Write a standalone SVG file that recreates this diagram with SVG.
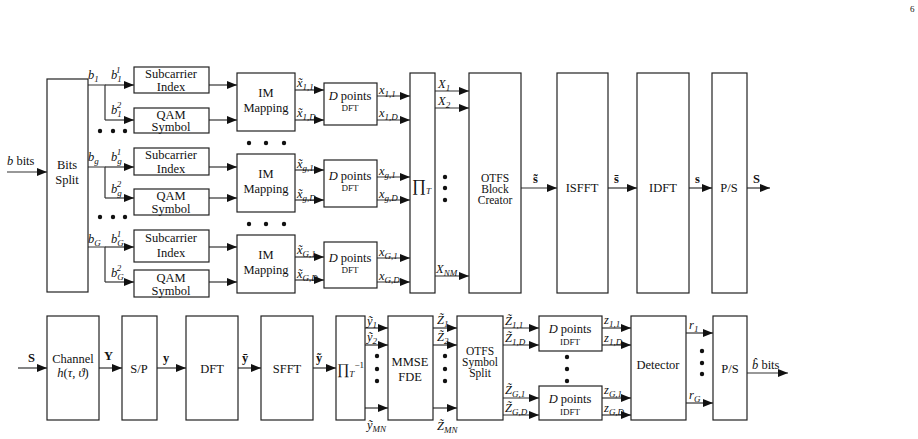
<svg xmlns="http://www.w3.org/2000/svg" width="918" height="439" viewBox="0 0 918 439" font-family="'Liberation Serif', 'DejaVu Serif', serif">
<style>
.b{fill:#fff;stroke:#222;stroke-width:1.2}
.c line,.c polyline{stroke:#333;stroke-width:1.2;fill:none}
.a{marker-end:url(#ar)}
text{font-family:'Liberation Serif','Times New Roman','DejaVu Serif',serif;font-size:12.5px;fill:#111}
.m{font-style:italic}
.s{font-size:9px}
.t{text-anchor:middle}
.n{font-size:11.5px}
.bd{font-weight:bold}
</style>
<defs><marker id="ar" viewBox="0 0 10 8" refX="10" refY="4" markerWidth="10" markerHeight="8" markerUnits="userSpaceOnUse" orient="auto"><path d="M0,0L10,4L0,8z" fill="#111"/></marker></defs>
<text x="910" y="12" class="s">6</text>
<g class="c">
<line class="a" x1="7" y1="172" x2="47" y2="172"/>
<polyline points="88,85 105,85 105,120"/><line class="a" x1="105" y1="85" x2="134" y2="85"/><line class="a" x1="105" y1="120" x2="134" y2="120"/>
<polyline points="88,167 105,167 105,198"/><line class="a" x1="105" y1="167" x2="134" y2="167"/><line class="a" x1="105" y1="198" x2="134" y2="198"/>
<polyline points="88,247 105,247 105,282"/><line class="a" x1="105" y1="247" x2="134" y2="247"/><line class="a" x1="105" y1="282" x2="134" y2="282"/>
<line class="a" x1="209" y1="85" x2="237" y2="85"/><line class="a" x1="209" y1="120" x2="237" y2="120"/>
<line class="a" x1="209" y1="167" x2="237" y2="167"/><line class="a" x1="209" y1="198" x2="237" y2="198"/>
<line class="a" x1="209" y1="247" x2="237" y2="247"/><line class="a" x1="209" y1="282" x2="237" y2="282"/>
<line class="a" x1="295" y1="90" x2="324" y2="90"/><line class="a" x1="295" y1="120" x2="324" y2="120"/>
<line class="a" x1="295" y1="170" x2="324" y2="170"/><line class="a" x1="295" y1="200" x2="324" y2="200"/>
<line class="a" x1="295" y1="257" x2="324" y2="257"/><line class="a" x1="295" y1="280" x2="324" y2="280"/>
<line class="a" x1="377" y1="96" x2="410" y2="96"/><line class="a" x1="377" y1="120" x2="410" y2="120"/>
<line class="a" x1="377" y1="177" x2="410" y2="177"/><line class="a" x1="377" y1="200" x2="410" y2="200"/>
<line class="a" x1="377" y1="258" x2="410" y2="258"/><line class="a" x1="377" y1="282" x2="410" y2="282"/>
<line class="a" x1="435" y1="91" x2="469" y2="91"/><line class="a" x1="435" y1="108" x2="469" y2="108"/><line class="a" x1="435" y1="276" x2="469" y2="276"/>
<line class="a" x1="521" y1="188" x2="557" y2="188"/><line class="a" x1="608" y1="188" x2="637" y2="188"/><line class="a" x1="689" y1="188" x2="712" y2="188"/><line class="a" x1="747" y1="188" x2="770" y2="188"/>
<line class="a" x1="18" y1="368" x2="47" y2="368"/><line class="a" x1="99" y1="368" x2="122" y2="368"/><line class="a" x1="157" y1="368" x2="186" y2="368"/><line class="a" x1="238" y1="368" x2="261" y2="368"/><line class="a" x1="313" y1="368" x2="336" y2="368"/>
<line class="a" x1="365" y1="328" x2="388" y2="328"/><line class="a" x1="365" y1="345" x2="388" y2="345"/><line class="a" x1="365" y1="408" x2="388" y2="408"/>
<line class="a" x1="433" y1="328" x2="457" y2="328"/><line class="a" x1="433" y1="345" x2="457" y2="345"/><line class="a" x1="433" y1="408" x2="457" y2="408"/>
<line class="a" x1="503" y1="328" x2="539" y2="328"/><line class="a" x1="503" y1="345" x2="539" y2="345"/><line class="a" x1="503" y1="398" x2="539" y2="398"/><line class="a" x1="503" y1="415" x2="539" y2="415"/>
<line class="a" x1="602" y1="328" x2="631" y2="328"/><line class="a" x1="602" y1="345" x2="631" y2="345"/><line class="a" x1="602" y1="398" x2="631" y2="398"/><line class="a" x1="602" y1="415" x2="631" y2="415"/>
<line class="a" x1="686" y1="333" x2="713" y2="333"/><line class="a" x1="686" y1="403" x2="713" y2="403"/><line class="a" x1="747" y1="373" x2="788" y2="373"/>
</g>
<g fill="#111">
<circle cx="100" cy="131" r="2.2"/><circle cx="113" cy="131" r="2.2"/><circle cx="125" cy="131" r="2.2"/>
<circle cx="100" cy="217" r="2.2"/><circle cx="113" cy="217" r="2.2"/><circle cx="125" cy="217" r="2.2"/>
<circle cx="249" cy="143" r="2.2"/><circle cx="266" cy="143" r="2.2"/><circle cx="284" cy="143" r="2.2"/>
<circle cx="249" cy="224" r="2.2"/><circle cx="266" cy="224" r="2.2"/><circle cx="284" cy="224" r="2.2"/>
<circle cx="445" cy="177" r="2.2"/><circle cx="445" cy="188" r="2.2"/><circle cx="445" cy="200" r="2.2"/>
<circle cx="377" cy="356" r="2.2"/><circle cx="377" cy="369" r="2.2"/><circle cx="377" cy="381" r="2.2"/>
<circle cx="445" cy="356" r="2.2"/><circle cx="445" cy="369" r="2.2"/><circle cx="445" cy="381" r="2.2"/>
<circle cx="567" cy="357" r="2.2"/><circle cx="567" cy="369" r="2.2"/><circle cx="567" cy="381" r="2.2"/>
<circle cx="702" cy="351" r="2.2"/><circle cx="702" cy="363" r="2.2"/><circle cx="702" cy="374" r="2.2"/>
</g>
<g id="bits-split"><rect class="b" x="47" y="79" width="41" height="213"/><text class="t" x="67" y="169">Bits</text><text class="t" x="67" y="184">Split</text></g>
<g id="sc1"><rect class="b" x="134" y="67" width="75" height="26"/><text class="t" x="171" y="78">Subcarrier</text><text class="t" x="171" y="91">Index</text></g>
<g id="qam1"><rect class="b" x="134" y="108" width="75" height="25"/><text class="t" x="171" y="119">QAM</text><text class="t" x="171" y="131">Symbol</text></g>
<g id="scg"><rect class="b" x="134" y="148" width="75" height="27"/><text class="t" x="171" y="159">Subcarrier</text><text class="t" x="171" y="173">Index</text></g>
<g id="qamg"><rect class="b" x="134" y="189" width="75" height="26"/><text class="t" x="171" y="200">QAM</text><text class="t" x="171" y="213">Symbol</text></g>
<g id="scG"><rect class="b" x="134" y="230" width="75" height="32"/><text class="t" x="171" y="242">Subcarrier</text><text class="t" x="171" y="257">Index</text></g>
<g id="qamG"><rect class="b" x="134" y="270" width="75" height="27"/><text class="t" x="171" y="282">QAM</text><text class="t" x="171" y="295">Symbol</text></g>
<g id="im1"><rect class="b" x="237" y="73" width="58" height="58"/><text class="t" x="266" y="97">IM</text><text class="t" x="266" y="112">Mapping</text></g>
<g id="img"><rect class="b" x="237" y="154" width="58" height="58"/><text class="t" x="266" y="178">IM</text><text class="t" x="266" y="193">Mapping</text></g>
<g id="imG"><rect class="b" x="237" y="235" width="58" height="58"/><text class="t" x="266" y="259">IM</text><text class="t" x="266" y="274">Mapping</text></g>
<g id="dft1"><rect class="b" x="324" y="83" width="53" height="42"/><text class="t" x="350" y="100"><tspan class="m">D</tspan> points</text><text class="t s" x="350" y="111">DFT</text></g>
<g id="dftg"><rect class="b" x="324" y="160" width="53" height="47"/><text class="t" x="350" y="180"><tspan class="m">D</tspan> points</text><text class="t s" x="350" y="191">DFT</text></g>
<g id="dftG"><rect class="b" x="324" y="242" width="53" height="46"/><text class="t" x="350" y="262"><tspan class="m">D</tspan> points</text><text class="t s" x="350" y="273">DFT</text></g>
<g id="pi"><rect class="b" x="410" y="73" width="25" height="220"/><text x="412" y="191" style="font-size:17px">∏<tspan class="m s" dy="3">T</tspan></text></g>
<g id="otfs-block"><rect class="b" x="469" y="73" width="52" height="220"/><text class="t n" x="495" y="182">OTFS</text><text class="t n" x="495" y="193">Block</text><text class="t n" x="495" y="204">Creator</text></g>
<g id="isfft"><rect class="b" x="557" y="73" width="51" height="220"/><text class="t" x="582" y="192">ISFFT</text></g>
<g id="idft"><rect class="b" x="637" y="73" width="52" height="220"/><text class="t" x="663" y="192">IDFT</text></g>
<g id="ps1"><rect class="b" x="712" y="73" width="35" height="220"/><text class="t" x="729" y="192">P/S</text></g>
<g id="channel"><rect class="b" x="47" y="316" width="52" height="104"/><text class="t" x="73" y="363">Channel</text><text class="t" x="73" y="377"><tspan class="m">h</tspan>(<tspan class="m">τ</tspan>, <tspan class="m">ϑ</tspan>)</text></g>
<g id="sp"><rect class="b" x="122" y="316" width="35" height="104"/><text class="t" x="139" y="373">S/P</text></g>
<g id="dft-rx"><rect class="b" x="186" y="316" width="52" height="104"/><text class="t" x="212" y="373">DFT</text></g>
<g id="sfft"><rect class="b" x="261" y="316" width="52" height="104"/><text class="t" x="287" y="373">SFFT</text></g>
<g id="pi-inv"><rect class="b" x="336" y="316" width="29" height="104"/><text x="337" y="374" style="font-size:15px">∏<tspan class="m s" dy="3">T</tspan><tspan class="s" dy="-9">−1</tspan></text></g>
<g id="mmse"><rect class="b" x="388" y="316" width="45" height="104"/><text class="t" x="410" y="366">MMSE</text><text class="t" x="410" y="381">FDE</text></g>
<g id="otfs-split"><rect class="b" x="457" y="316" width="46" height="104"/><text class="t n" x="480" y="355">OTFS</text><text class="t n" x="480" y="366">Symbol</text><text class="t n" x="480" y="377">Split</text></g>
<g id="idft1"><rect class="b" x="539" y="316" width="63" height="35"/><text class="t" x="570" y="333"><tspan class="m">D</tspan> points</text><text class="t s" x="570" y="345">IDFT</text></g>
<g id="idftG"><rect class="b" x="539" y="386" width="63" height="34"/><text class="t" x="570" y="403"><tspan class="m">D</tspan> points</text><text class="t s" x="570" y="415">IDFT</text></g>
<g id="detector"><rect class="b" x="631" y="316" width="55" height="104"/><text class="t" x="658" y="369">Detector</text></g>
<g id="ps2"><rect class="b" x="713" y="316" width="34" height="104"/><text class="t" x="730" y="373">P/S</text></g>
<g id="labels">
<text x="7" y="165"><tspan class="m">b</tspan> bits</text>
<text x="88" y="79" class="m">b<tspan class="s" dy="3">1</tspan></text>
<text x="111" y="79" class="m">b<tspan class="s" dy="3">1</tspan><tspan class="s" dx="-5" dy="-9">1</tspan></text>
<text x="111" y="114" class="m">b<tspan class="s" dy="3">1</tspan><tspan class="s" dx="-5" dy="-9">2</tspan></text>
<text x="88" y="161" class="m">b<tspan class="s" dy="3">g</tspan></text>
<text x="111" y="161" class="m">b<tspan class="s" dy="3">g</tspan><tspan class="s" dx="-5" dy="-9">1</tspan></text>
<text x="111" y="193" class="m">b<tspan class="s" dy="3">g</tspan><tspan class="s" dx="-5" dy="-9">2</tspan></text>
<text x="88" y="243" class="m">b<tspan class="s" dy="3">G</tspan></text>
<text x="111" y="243" class="m">b<tspan class="s" dy="3">G</tspan><tspan class="s" dx="-7" dy="-9">1</tspan></text>
<text x="111" y="277" class="m">b<tspan class="s" dy="3">G</tspan><tspan class="s" dx="-7" dy="-9">2</tspan></text>
<text x="297" y="87" class="m">x̃<tspan class="s" dy="3">1,1</tspan></text>
<text x="297" y="117" class="m">x̃<tspan class="s" dy="3">1,D</tspan></text>
<text x="297" y="168" class="m">x̃<tspan class="s" dy="3">g,1</tspan></text>
<text x="297" y="198" class="m">x̃<tspan class="s" dy="3">g,D</tspan></text>
<text x="297" y="254" class="m">x̃<tspan class="s" dy="3">G,1</tspan></text>
<text x="297" y="278" class="m">x̃<tspan class="s" dy="3">G,D</tspan></text>
<text x="379" y="94" class="m">x<tspan class="s" dy="3">1,1</tspan></text>
<text x="379" y="117" class="m">x<tspan class="s" dy="3">1,D</tspan></text>
<text x="379" y="175" class="m">x<tspan class="s" dy="3">g,1</tspan></text>
<text x="379" y="198" class="m">x<tspan class="s" dy="3">g,D</tspan></text>
<text x="379" y="256" class="m">x<tspan class="s" dy="3">G,1</tspan></text>
<text x="379" y="280" class="m">x<tspan class="s" dy="3">G,D</tspan></text>
<text x="438" y="88" class="m">X<tspan class="s" dy="3">1</tspan></text>
<text x="438" y="105" class="m">X<tspan class="s" dy="3">2</tspan></text>
<text x="436" y="273" class="m">X<tspan class="s" dy="3">NM</tspan></text>
<text x="533" y="183" class="bd">s̃</text>
<text x="614" y="183" class="bd">s̄</text>
<text x="695" y="183" class="bd">s</text>
<text x="753" y="183" class="bd">S</text>
<text x="28" y="362" class="bd">S</text>
<text x="104" y="360" class="bd">Y</text>
<text x="163" y="362" class="bd">y</text>
<text x="242" y="362" class="bd">ȳ</text>
<text x="316" y="362" class="bd">ỹ</text>
<text x="367" y="325" class="m">ỹ<tspan class="s" dy="3">1</tspan></text>
<text x="367" y="341" class="m">ỹ<tspan class="s" dy="3">2</tspan></text>
<text x="367" y="429" class="m">ỹ<tspan class="s" dy="3">MN</tspan></text>
<text x="437" y="324" class="m">Z̃<tspan class="s" dy="3">1</tspan></text>
<text x="437" y="341" class="m">Z̃<tspan class="s" dy="3">2</tspan></text>
<text x="437" y="430" class="m">Z̃<tspan class="s" dy="3">MN</tspan></text>
<text x="505" y="325" class="m">Z̃<tspan class="s" dy="3">1,1</tspan></text>
<text x="505" y="342" class="m">Z̃<tspan class="s" dy="3">1,D</tspan></text>
<text x="505" y="394" class="m">Z̃<tspan class="s" dy="3">G,1</tspan></text>
<text x="505" y="412" class="m">Z̃<tspan class="s" dy="3">G,D</tspan></text>
<text x="604" y="324" class="m">z<tspan class="s" dy="3">1,1</tspan></text>
<text x="604" y="342" class="m">z<tspan class="s" dy="3">1,D</tspan></text>
<text x="604" y="394" class="m">z<tspan class="s" dy="3">G,1</tspan></text>
<text x="604" y="412" class="m">z<tspan class="s" dy="3">G,D</tspan></text>
<text x="689" y="329" class="m">r<tspan class="s" dy="3">1</tspan></text>
<text x="689" y="399" class="m">r<tspan class="s" dy="3">G</tspan></text>
<text x="752" y="369"><tspan class="m">b̂</tspan> bits</text>
</g>
</svg>
